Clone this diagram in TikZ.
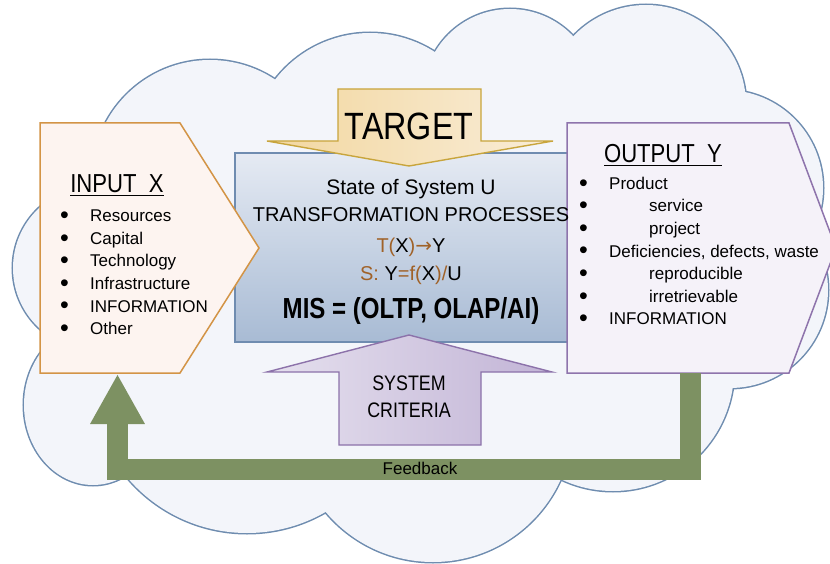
\documentclass[tikz,border=0pt]{standalone}
\usepackage{fontspec}
\setmainfont{Liberation Sans}
\newfontfamily\narrowfont[FakeStretch=0.85]{Liberation Sans}
\newfontfamily\misfont[FakeStretch=0.83]{Liberation Sans}
\newfontfamily\arrowfont{DejaVu Sans}
\usetikzlibrary{arrows.meta}

\definecolor{cloudedge}{RGB}{110,140,175}
\definecolor{cloudbg}{RGB}{243,245,250}
\definecolor{procedge}{RGB}{111,140,176}
\definecolor{proctop}{RGB}{229,234,243}
\definecolor{procbot}{RGB}{168,187,212}
\definecolor{inedge}{RGB}{211,148,70}
\definecolor{inbg}{RGB}{253,244,240}
\definecolor{outedge}{RGB}{142,116,172}
\definecolor{outbg}{RGB}{245,242,249}
\definecolor{targetedge}{RGB}{200,165,60}
\definecolor{targetleft}{RGB}{242,215,160}
\definecolor{targetright}{RGB}{249,237,216}
\definecolor{critedge}{RGB}{140,114,170}
\definecolor{critleft}{RGB}{229,224,238}
\definecolor{critright}{RGB}{194,180,214}
\definecolor{fbgreen}{RGB}{125,145,98}
\definecolor{txtbrown}{RGB}{160,98,40}

\newcommand{\bul}{\makebox[30pt][l]{\raisebox{-1.8pt}{\fontsize{25}{0}\selectfont •}}}
\newcommand{\headline}[1]{\setbox0\hbox{#1}\rlap{\rule[-3.5pt]{\wd0}{1.4pt}}\box0}

\begin{document}
\begin{tikzpicture}[x=1pt,y=1pt,
        bump/.style={draw=cloudedge,line width=3pt},
        procbox/.style={draw=procedge,line width=1.4pt,top color=proctop,bottom color=procbot},
        inbox/.style={draw=inedge,line width=1.5pt,fill=inbg},
        outbox/.style={draw=outedge,line width=1.5pt,fill=outbg},
        targetarrow/.style={draw=targetedge,line width=1.4pt,left color=targetleft,right color=targetright},
        critarrow/.style={draw=critedge,line width=1.4pt,left color=critleft,right color=critright},
        feedback/.style={draw=fbgreen,line width=21pt,line join=miter,-{Triangle[length=50pt,width=51pt]}},
        every node/.style={inner sep=0pt,text=black},
        head/.style={anchor=base,font=\narrowfont\fontsize{26}{26}\selectfont},
        items/.style={anchor=north west,align=left,font=\fontsize{17}{22.6}\selectfont},
        proctext/.style={anchor=base,font=\fontsize{20}{20}\selectfont}]
        \useasboundingbox (0,0) rectangle (830,-564);
        \clip (0,0) rectangle (830,-564);

        % Cloud: stroke every bump, then fill them all over again
        \foreach \cx/\cy/\rx/\ry in {95/268/82/82, 93/405/69/80, 247/376/157/157, 433/422/140/140,
                613/370/121/121, 730/290/98/98, 725/188/98/98, 646/105/100/100,
                510/96/87/87, 370/153/120/120, 210/178/118/118}
            \draw[bump] (\cx,-\cy) ellipse ({\rx pt} and {\ry pt});
        \foreach \cx/\cy/\rx/\ry in {95/268/82/82, 93/405/69/80, 247/376/157/157, 433/422/140/140,
                613/370/121/121, 730/290/98/98, 725/188/98/98, 646/105/100/100,
                510/96/87/87, 370/153/120/120, 210/178/118/118}
            \fill[cloudbg] (\cx,-\cy) ellipse ({\rx pt} and {\ry pt});
        \fill[cloudbg] (95,-268) -- (93,-405) -- (247,-376) -- (433,-422) -- (613,-370) -- (730,-290)
            -- (725,-188) -- (646,-105) -- (510,-96) -- (370,-153) -- (210,-178) -- cycle;

        % Transformation box with the two block arrows
        \draw[procbox] (235,-153) rectangle (575,-342);
        \draw[targetarrow] (338,-89) -- (481,-89) -- (481,-141) -- (553,-141) -- (409,-166)
            -- (267,-141) -- (338,-141) -- cycle;
        \draw[critarrow] (409,-335) -- (552,-372) -- (481,-372) -- (481,-445) -- (339,-445)
            -- (339,-372) -- (267,-372) -- cycle;

        % Input and output
        \draw[inbox] (40,-123) -- (180,-123) -- (259,-248) -- (180,-373) -- (40,-373) -- cycle;
        \draw[outbox] (567,-123) -- (789,-123) -- (836,-248) -- (789,-373) -- (567,-373) -- cycle;

        \node[anchor=base,font=\narrowfont\fontsize{38}{38}\selectfont] (target) at (409,-140) {TARGET};
        \node[align=center,font=\narrowfont\fontsize{21}{27}\selectfont] (crit) at (409,-396.5) {SYSTEM\\CRITERIA};

        \node[proctext,font=\fontsize{21}{21}\selectfont] (state) at (411,-195) {State of System U};
        \node[proctext] (trans) at (411,-222) {TRANSFORMATION PROCESSES};
        \node[proctext] (tfun) at (411,-252)
            {\textcolor{txtbrown}{T(}X\textcolor{txtbrown}{)\arrowfont→}Y};
        \node[proctext] (sfun) at (411,-280)
            {\textcolor{txtbrown}{S:} Y\textcolor{txtbrown}{=f(}X\textcolor{txtbrown}{)/}U};
        \node[anchor=base,font=\misfont\bfseries\fontsize{29}{29}\selectfont] (mis) at (411,-318)
            {MIS = (OLTP, OLAP/AI)};

        \node[head] (inhead) at (117,-193) {\headline{INPUT\ \ X}};
        \node[items] (inlist) at (60,-209.8)
            {\bul Resources\\\bul Capital\\\bul Technology\\\bul Infrastructure\\\bul INFORMATION\\\bul Other};

        \node[head] (outhead) at (663,-163) {\headline{OUTPUT\ \ Y}};
        \node[items] (outlist) at (579,-176.8)
            {\bul Product\\\bul\hspace{40pt}service\\\bul\hspace{40pt}project\\\bul Deficiencies, defects, waste\\
             \bul\hspace{40pt}reproducible\\\bul\hspace{40pt}irretrievable\\\bul INFORMATION};

        % Feedback from the output back to the input
        \coordinate (outfoot) at (690.5,-373);
        \coordinate (infoot) at (117.5,-374);
        \coordinate (fbline) at (0,-469.5);
        \draw[feedback] (outfoot) |- (fbline -| infoot) -- (infoot);
        \node[anchor=base,font=\fontsize{17}{17}\selectfont] (fblabel) at (420,-474) {Feedback};
    \end{tikzpicture}
\end{document}
